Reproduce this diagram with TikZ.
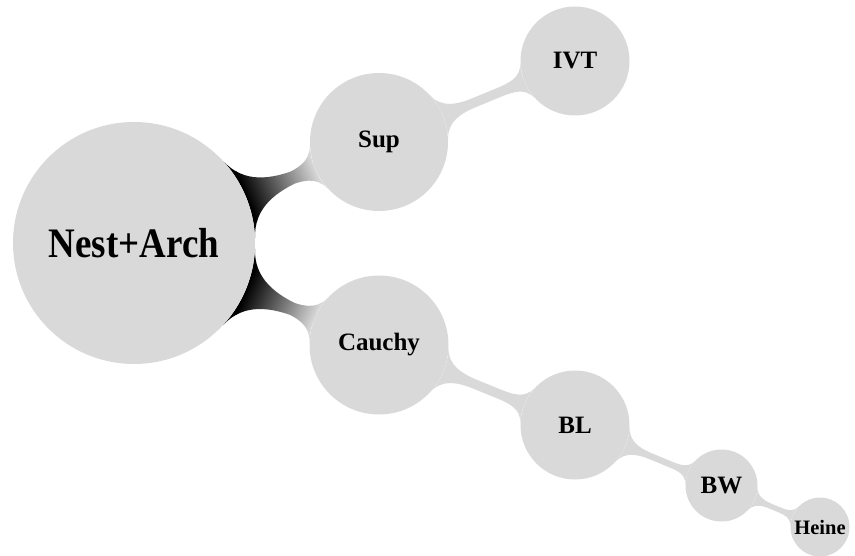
\documentclass[tikz,border=0pt]{standalone}
\usepackage{fontspec}
\setmainfont{Liberation Serif}
\usetikzlibrary{mindmap,backgrounds}
\definecolor{topicgray}{gray}{0.85}

\begin{document}
\begin{tikzpicture}[x=1pt,y=-1pt,
	topic/.style={circle,fill=topicgray,inner sep=0pt,text=black},
	roottopic/.style={topic,minimum size=242pt,font=\fontsize{42}{46}\selectfont\bfseries\addfontfeature{FakeStretch=0.88}},
	midtopic/.style={topic,font=\fontsize{25}{28}\selectfont\bfseries},
	smalltopic/.style={topic,font=\fontsize{20.5}{24}\selectfont\bfseries},
	rootbar/.style={circle connection bar switch color=from (black) to (topicgray),line width=16pt},
	thinbar/.style={circle connection bar switch color=from (topicgray) to (topicgray),line width=7pt}]
	\useasboundingbox (0,0) rectangle (855,556);
	% root
	\node[roottopic] (nest) at (134,243) {Nest+Arch};
	% upper branch
	\node[midtopic,minimum size=138pt] (sup) at (379,142) {Sup};
	\node[midtopic,minimum size=109pt] (ivt) at (575,61) {IVT};
	% lower branch
	\node[midtopic,minimum size=139pt] (cauchy) at (379,345) {Cauchy};
	\node[midtopic,minimum size=109pt] (bl) at (575,425) {BL};
	\node[midtopic,minimum size=72pt] (bw) at (721.5,485.5) {BW};
	\node[smalltopic,minimum size=59pt] (heine) at (820,527) {Heine};

	\begin{scope}[on background layer]
		\path (nest) to[rootbar] (sup);
		\path (nest) to[rootbar] (cauchy);
		\path (sup) to[thinbar] (ivt);
		\path (cauchy) to[thinbar] (bl);
		\path (bl) to[thinbar] (bw);
		\path (bw) to[thinbar,line width=5.5pt] (heine);
	\end{scope}
\end{tikzpicture}
\end{document}
